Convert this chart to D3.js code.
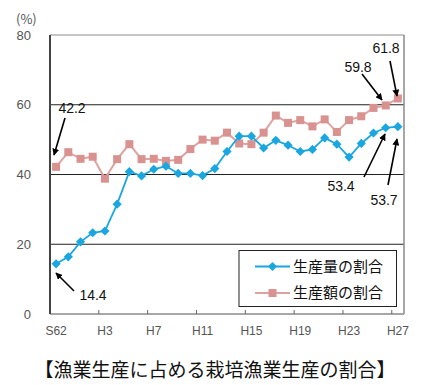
<!DOCTYPE html>
<html><head><meta charset="utf-8">
<script src="https://cdn.jsdelivr.net/npm/d3@7"></script>
<style>
body{margin:0;background:#fff;}
svg{display:block;}
</style></head>
<body>
<svg id="c" width="422" height="385"></svg>
<script>
const categories = ["S62","S63","H1","H2","H3","H4","H5","H6","H7","H8","H9","H10","H11","H12","H13","H14","H15","H16","H17","H18","H19","H20","H21","H22","H23","H24","H25","H26","H27"];
const volumeShare = [14.4,16.4,20.7,23.3,23.8,31.5,40.8,39.6,41.5,42.4,40.3,40.3,39.7,41.7,46.6,51.0,51.0,47.6,49.8,48.4,46.6,47.2,50.5,48.7,45.0,48.9,51.9,53.4,53.7];
const valueShare = [42.2,46.4,44.5,45.1,38.8,44.4,48.7,44.4,44.5,43.9,44.2,47.3,50.0,49.7,52.0,48.9,48.7,52.0,56.9,54.8,55.6,53.8,55.8,52.2,55.6,56.7,59.1,59.8,61.8];
const yTicks = [0,20,40,60,80];
const xTickLabels = ["S62","H3","H7","H11","H15","H19","H23","H27"];
const seriesNames = ["生産量の割合","生産額の割合"];
const title = "【漁業生産に占める栽培漁業生産の割合】";
const annotations = [
  {series:1, index:0, label:"42.2"},
  {series:0, index:0, label:"14.4"},
  {series:1, index:27, label:"59.8"},
  {series:1, index:28, label:"61.8"},
  {series:0, index:27, label:"53.4"},
  {series:0, index:28, label:"53.7"}
];

const svg = d3.select("#c");
const L=50, R=404, T=35, B=314;
const x = d3.scaleBand().domain(categories).range([L,R]);
const y = d3.scaleLinear().domain([0,80]).range([B,T]);
const cx = c => x(c)+x.bandwidth()/2;
const blue="#1aa6e0", pink="#d9928f", pinkLine="#dea3a1";
const numFont="'Liberation Sans', Arial, sans-serif";
const jpFont="'Noto Sans CJK JP', sans-serif";

// gridlines
svg.append("g").selectAll("line").data(yTicks.filter(v=>v>0)).join("line")
  .attr("x1",L).attr("x2",R).attr("y1",d=>y(d)).attr("y2",d=>y(d))
  .attr("stroke",d=>d===80?"#8a8a8a":"#222").attr("stroke-width",1);
// right border
svg.append("line").attr("x1",R).attr("x2",R).attr("y1",T).attr("y2",B).attr("stroke","#8a8a8a").attr("stroke-width",1.5);
// bottom axis
svg.append("line").attr("x1",L).attr("x2",R).attr("y1",B).attr("y2",B).attr("stroke","#8a8a8a").attr("stroke-width",1.5);
// x ticks (inward, at band boundaries of labelled categories)
svg.append("g").selectAll("line").data(xTickLabels.slice(1)).join("line")
  .attr("x1",d=>x(d)).attr("x2",d=>x(d)).attr("y1",B).attr("y2",B-4)
  .attr("stroke","#666").attr("stroke-width",1);
// left axis
svg.append("line").attr("x1",L).attr("x2",L).attr("y1",T).attr("y2",B).attr("stroke","#444").attr("stroke-width",2);

// y labels
svg.append("g").selectAll("text").data(yTicks).join("text")
  .attr("x",31).attr("y",d=>y(d)).attr("dy","0.35em").attr("text-anchor","end")
  .attr("font-family",numFont).attr("font-size",13).attr("fill","#555").text(d=>d);
svg.append("text").attr("x",16).attr("y",19).attr("dy","0.35em")
  .attr("font-family",jpFont).attr("font-size",13).attr("fill","#555").text("(%)");
// x labels
svg.append("g").selectAll("text").data(xTickLabels).join("text")
  .attr("x",d=>cx(d)).attr("y",331).attr("dy","0.35em").attr("text-anchor","middle")
  .attr("font-family",numFont).attr("font-size",12).attr("fill","#555").text(d=>d);

const line = d3.line().x((d,i)=>cx(categories[i])).y(d=>y(d));
// pink series
svg.append("path").datum(valueShare).attr("d",line).attr("fill","none").attr("stroke",pinkLine).attr("stroke-width",2);
svg.append("g").selectAll("rect").data(valueShare).join("rect")
  .attr("x",(d,i)=>cx(categories[i])-4).attr("y",d=>y(d)-4).attr("width",8).attr("height",8).attr("fill",pink);
// blue series
const diamond = (px,py,r)=>`M${px},${py-r}L${px+r},${py}L${px},${py+r}L${px-r},${py}Z`;
svg.append("path").datum(volumeShare).attr("d",line).attr("fill","none").attr("stroke",blue).attr("stroke-width",1.8);
svg.append("g").selectAll("path").data(volumeShare).join("path")
  .attr("d",(d,i)=>diamond(cx(categories[i]),y(d),4.6)).attr("fill",blue);

// arrows
svg.append("defs").append("marker").attr("id","ah").attr("viewBox","0 0 10 10")
  .attr("refX",9).attr("refY",5).attr("markerWidth",7).attr("markerHeight",7)
  .attr("markerUnits","userSpaceOnUse").attr("orient","auto")
  .append("path").attr("d","M0,0L10,5L0,10Z").attr("fill","#000");
// label positions / arrow tails relative to the target point
const annLayout = [
  {tx:72, ty:108, sx:65, sy:118, ex:54, ey:155},
  {tx:93, ty:295, sx:74, sy:291, ex:56, ey:273},
  {tx:358, ty:67, sx:362, sy:74, ex:382, ey:100},
  {tx:386, ty:48, sx:390, sy:61, ex:397, ey:96},
  {tx:341, ty:186, sx:364, sy:177, ex:385, ey:134},
  {tx:384, ty:200, sx:388, sy:185, ex:397, ey:139}
];
annotations.forEach((a,k)=>{
  const p = annLayout[k];
  svg.append("line").attr("x1",p.sx).attr("y1",p.sy).attr("x2",p.ex).attr("y2",p.ey)
    .attr("stroke","#000").attr("stroke-width",1.6).attr("marker-end","url(#ah)");
  svg.append("text").attr("x",p.tx).attr("y",p.ty).attr("dy","0.35em").attr("text-anchor","middle")
    .attr("font-family",numFont).attr("font-size",14).attr("fill","#111").text(a.label);
});

// legend
const lg = svg.append("g");
lg.append("rect").attr("x",239).attr("y",250.5).attr("width",157.5).attr("height",56)
  .attr("fill","#fff").attr("stroke","#222").attr("stroke-width",1);
const legendItems = [{name:seriesNames[0], color:blue, lc:blue, ly:266.5, shape:"d"},
                     {name:seriesNames[1], color:pink, lc:pinkLine, ly:293, shape:"s"}];
legendItems.forEach(it=>{
  lg.append("line").attr("x1",255).attr("x2",290).attr("y1",it.ly).attr("y2",it.ly).attr("stroke",it.lc).attr("stroke-width",1.8);
  if(it.shape==="d") lg.append("path").attr("d",diamond(272.5,it.ly,4.6)).attr("fill",it.color);
  else lg.append("rect").attr("x",268.5).attr("y",it.ly-4).attr("width",8).attr("height",8).attr("fill",it.color);
  lg.append("text").attr("x",293).attr("y",it.ly).attr("dy","0.36em").attr("font-family",jpFont)
    .attr("font-size",15).attr("fill","#111").text(it.name);
});

// title
svg.append("text").attr("x",215).attr("y",377).attr("text-anchor","middle")
  .attr("font-family",jpFont).attr("font-size",19).attr("fill","#111").text(title);
</script>
</body></html>
